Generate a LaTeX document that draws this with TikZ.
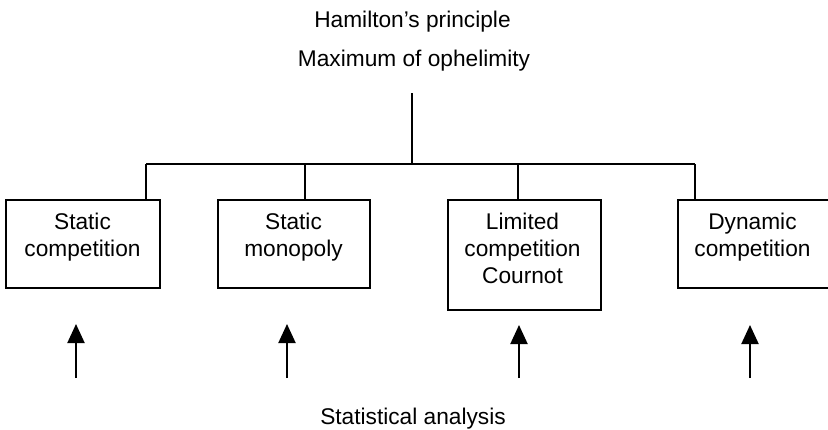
\documentclass[tikz,border=0pt]{standalone}
\usepackage{fontspec}
\setmainfont{Liberation Sans}
\usetikzlibrary{arrows.meta}
\begin{document}
\begin{tikzpicture}[x=1pt,y=-1pt,
  every node/.style={font=\fontsize{22.7}{27}\selectfont, inner sep=0pt},
  box/.style={draw=black, line width=2pt, rectangle, minimum width=#1, minimum height=88pt, anchor=north west},
  boxtext/.style={anchor=north, align=center},
  label/.style={anchor=base},
  link/.style={line width=2pt},
  uparrow/.style={line width=2pt, -{Triangle[length=19pt,width=17pt]}}
]
\useasboundingbox (0,0) rectangle (828,429);
% titles
\node[label] (ham) at (412.5,27) {Hamilton’s principle};
\node[label] (max) at (414,66) {Maximum of ophelimity};
\node[label] (stat) at (413,424) {Statistical analysis};
% boxes
\node[box=154pt] (b1) at (5,199) {};
\node[box=152pt] (b2) at (217,199) {};
\node[box=153pt, minimum height=110pt] (b3) at (447,199) {};
\node[box=152pt] (b4) at (677,199) {};
\node[boxtext] (t1) at (82.5,212.5) {Static\\competition};
\node[boxtext] (t2) at (293.5,212.5) {Static\\monopoly};
\node[boxtext] (t3) at (522.5,212.5) {Limited\\competition\\Cournot};
\node[boxtext] (t4) at (752.5,212.5) {Dynamic\\competition};
% tree
\coordinate (top) at (412,93);
\coordinate (hub) at (412,164);
\coordinate (j1) at (146,164);
\coordinate (j2) at (305,164);
\coordinate (j3) at (518,164);
\coordinate (j4) at (695,164);
\draw[link] (top) -- (hub);
\draw[link] (j1) -- (j4);
\draw[link] (j1) -- (j1 |- b1.north);
\draw[link] (j2) -- (j2 |- b2.north);
\draw[link] (j3) -- (j3 |- b3.north);
\draw[link] (j4) -- (j4 |- b4.north);
% arrows
\coordinate (a1s) at (76,378);   \coordinate (a1e) at (76,324);
\coordinate (a2s) at (287,378);  \coordinate (a2e) at (287,324);
\coordinate (a3s) at (519,378);  \coordinate (a3e) at (519,325);
\coordinate (a4s) at (750,378);  \coordinate (a4e) at (750,325);
\draw[uparrow] (a1s) -- (a1e);
\draw[uparrow] (a2s) -- (a2e);
\draw[uparrow] (a3s) -- (a3e);
\draw[uparrow] (a4s) -- (a4e);
\end{tikzpicture}
\end{document}
